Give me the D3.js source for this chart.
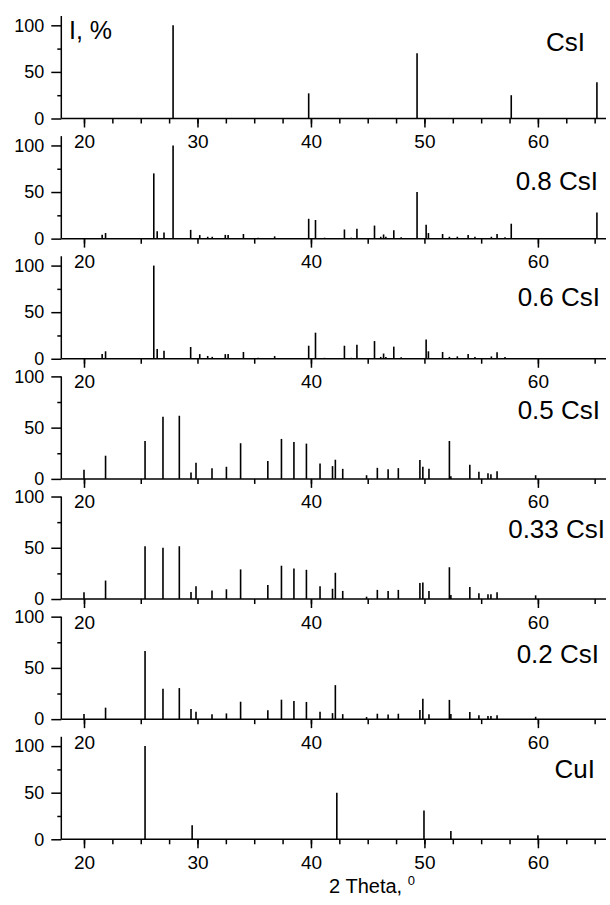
<!DOCTYPE html>
<html>
<head>
<meta charset="utf-8">
<script src="https://cdn.jsdelivr.net/npm/d3@7"></script>
<style>
  body { margin: 0; background: #fff; }
  text { font-family: "Liberation Sans", Arial, sans-serif; fill: #000; }
</style>
</head>
<body>
<svg width="610" height="905"></svg>
<script>
// peak positions (2 theta) and relative intensities
var csiPos = [27.85, 39.8, 49.35, 57.65, 65.2];
var csiI   = [100, 27, 70, 25, 39];

// CsI-rich mixtures share these reflections
var richPos = [21.6, 21.9, 26.15, 26.45, 27.05, 27.85, 29.4, 30.2, 30.9, 31.3, 32.45, 32.7,
               34.05, 35.35, 36.8, 39.8, 40.4, 41.2, 42.95, 43.55, 44.05, 45.6, 46.15, 46.4,
               46.6, 47.3, 47.95, 49.35, 50.15, 50.35, 51.6, 52.2, 52.9, 53.85, 54.45, 55.9,
               56.4, 57.1, 57.65, 65.2];
var csi08I = [4.2, 6, 70, 8, 6.6, 100, 9.4, 3.8, 2, 2, 4, 4,
              5, 1, 2.4, 21.3, 20, 1, 9.8, 1, 10.5, 14, 2, 4.5,
              2, 9, 1.5, 50, 15, 6, 5, 2, 2, 4, 2, 2,
              5, 1.5, 16, 28];
var csi06I = [5, 8, 100, 10.5, 8.7, 0, 12.6, 5, 3, 2, 5, 5,
              7.3, 1, 3, 14, 28, 1, 14, 1, 15, 19, 2, 5.6,
              2, 13, 1.5, 0, 20.6, 8, 7.3, 2, 2.6, 5, 2, 2.5,
              7, 2, 0, 0];

// CuI-rich mixtures share these reflections
var mixPos = [20.0, 21.9, 25.38, 26.96, 28.4, 29.43, 29.87, 31.28, 32.55, 33.8, 36.2,
              37.4, 38.5, 39.6, 40.8, 41.9, 42.15, 42.8, 44.9, 45.85, 46.8, 47.7,
              49.6, 49.86, 50.4, 52.2, 52.33, 54.0, 54.8, 55.6, 55.86, 56.4, 59.8];
var csi05I  = [9, 22.6, 37, 60.7, 61.6, 6.2, 15.7, 10.5, 11.8, 34.8, 17.4,
               39, 36, 34.4, 15, 12.5, 18.7, 9.8, 3.6, 10.8, 9.5, 10.5,
               18.4, 11.8, 9.8, 37, 2.5, 13.8, 6.9, 5.6, 4.6, 7.5, 3.6];
var csi033I = [6.6, 18, 51.5, 50, 51.5, 6.9, 12.5, 8.2, 9.5, 28.9, 13.8,
               32.5, 29.8, 28.5, 12.5, 10, 25.6, 7.9, 2.3, 8.9, 7.9, 8.9,
               15.7, 16, 7.9, 31, 4, 11.8, 5.6, 4.6, 4.6, 6.6, 3.6];
var csi02I  = [5, 11.2, 66.4, 29.6, 30.3, 9.9, 7.2, 4.9, 5.6, 17, 8.6,
               19, 17.8, 16.8, 7.2, 5.9, 33.2, 4.9, 2, 5.3, 4.6, 5.3,
               8.9, 20, 4.9, 18.8, 5, 6.9, 3.9, 3, 3, 3.9, 2.3];

var cuiPos = [25.38, 29.53, 42.28, 49.96, 52.33, 60.0];
var cuiI   = [100, 15, 50, 31, 8.8, 4.2];

var names = ["CsI", "0.8 CsI", "0.6 CsI", "0.5 CsI", "0.33 CsI", "0.2 CsI", "CuI"];
var xDomain = [18, 66];

var panels = [
  {pos: csiPos,  val: csiI,    yMax: 110, fine: true,  lx: 585, ly: 68},
  {pos: richPos, val: csi08I,  yMax: 110, fine: false, lx: 598, ly: 49},
  {pos: richPos, val: csi06I,  yMax: 110, fine: false, lx: 600, ly: 53},
  {pos: mixPos,  val: csi05I,  yMax: 100, fine: false, lx: 600, ly: 60},
  {pos: mixPos,  val: csi033I, yMax: 100, fine: false, lx: 605, ly: 61},
  {pos: mixPos,  val: csi02I,  yMax: 100, fine: false, lx: 599, ly: 56},
  {pos: cuiPos,  val: cuiI,    yMax: 110, fine: true,  lx: 595, ly: 61}
];

var svg = d3.select("svg"),
    left = 61.3,
    right = 606,
    firstBase = 118.5,
    pitch = 120.13,
    h = 102.5;

var x = d3.scaleLinear().domain(xDomain).range([left, right]);

panels.forEach(function(p, i) {
  var base = firstBase + pitch * i;
  var y = d3.scaleLinear().domain([0, p.yMax]).range([base, base - h]);
  var g = svg.append("g");

  var peaks = p.pos.map(function(d, k) { return {t: d, v: p.val[k]}; })
    .filter(function(d) { return d.v > 0; });

  g.selectAll("line.peak")
    .data(peaks)
    .enter().append("line")
      .attr("class", "peak")
      .attr("x1", function(d) { return x(d.t); })
      .attr("x2", function(d) { return x(d.t); })
      .attr("y1", y(0))
      .attr("y2", function(d) { return y(d.v); })
      .attr("stroke", "#000")
      .attr("stroke-width", 1.6);

  // x axis: minor ticks, then major ticks with labels
  var minor = p.fine ? d3.range(20, 66, 2.5) : d3.range(20, 66, 5);
  var major = p.fine ? [20, 30, 40, 50, 60] : [20, 40, 60];

  var xMinor = g.append("g")
      .attr("transform", "translate(0," + base + ")")
      .call(d3.axisBottom(x).tickValues(minor).tickSize(5).tickFormat(""));
  xMinor.select(".domain").remove();

  var xMajor = g.append("g")
      .attr("transform", "translate(0," + base + ")")
      .call(d3.axisBottom(x).tickValues(major).tickSizeInner(9).tickSizeOuter(0).tickPadding(7));
  xMajor.select(".domain").attr("d", "M" + left + ",0H" + right);
  xMajor.selectAll("text").style("font-size", "19px");

  // y axis
  var yMinor = g.append("g")
      .attr("transform", "translate(" + left + ",0)")
      .call(d3.axisLeft(y).tickValues([25, 75]).tickSize(4).tickFormat(""));
  yMinor.select(".domain").remove();

  var yMajor = g.append("g")
      .attr("transform", "translate(" + left + ",0)")
      .call(d3.axisLeft(y).tickValues([0, 50, 100]).tickSizeInner(10).tickSizeOuter(0).tickPadding(7));
  yMajor.select(".domain").attr("d", "M0," + (base - h) + "V" + base);
  yMajor.selectAll("text").style("font-size", "18px");

  g.selectAll(".domain, .tick line").attr("stroke", "#000").attr("stroke-width", 1.5);

  g.append("text")
      .attr("x", p.lx)
      .attr("y", base - p.ly)
      .attr("text-anchor", "end")
      .style("font-size", "26px")
      .text(names[i]);
});

svg.append("text")
    .attr("x", 69)
    .attr("y", 39)
    .style("font-size", "25px")
    .text("I, %");

var title = svg.append("text")
    .attr("x", 372)
    .attr("y", 893)
    .attr("text-anchor", "middle")
    .style("font-size", "20px");
title.append("tspan").text("2 Theta, ");
title.append("tspan").attr("dy", -8).style("font-size", "13px").text("0");
</script>
</body>
</html>
